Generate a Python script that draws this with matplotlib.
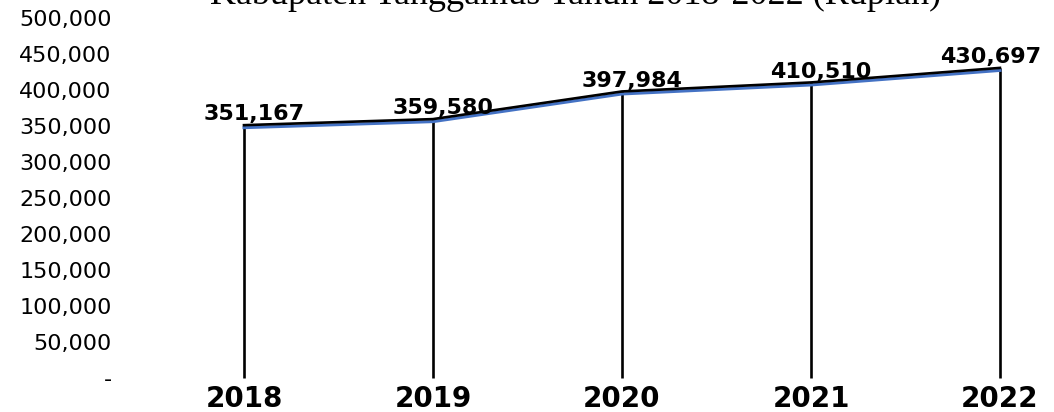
import matplotlib
matplotlib.use("Agg")
import matplotlib.pyplot as plt
from matplotlib import transforms

years = ["2018", "2019", "2020", "2021", "2022"]
values = [351167, 359580, 397984, 410510, 430697]
y_ticks = [0, 50000, 100000, 150000, 200000, 250000, 300000, 350000, 400000, 450000, 500000]
title = "Kabupaten Tanggamus Tahun 2018-2022 (Rupiah)"

W, H = 1054, 412
fig = plt.figure(figsize=(W / 100, H / 100), dpi=100)
ax = fig.add_axes([120 / W, (H - 378) / H, 1 - 120 / W, (378 - 18) / H])

x = list(range(len(years)))

# drop lines from each point down to zero
for xi, v in zip(x, values):
    ax.plot([xi, xi], [0, v], color="black", lw=1.9, solid_capstyle="butt", zorder=2)

# blue line slightly below the black series line
shadow = ax.transData + transforms.ScaledTranslation(0, -2.5 / 100, fig.dpi_scale_trans)
ax.plot(x, values, color="#4472C4", lw=2.2, transform=shadow, zorder=3)
ax.plot(x, values, color="black", lw=1.9, zorder=4)

# value labels; the last one is pulled inward so it stays inside the figure
for i, (xi, v) in enumerate(zip(x, values)):
    dx = -7 if i == len(values) - 1 else 7
    ax.annotate(f"{v:,}", (xi, v), xytext=(dx, 0.5), textcoords="offset points",
                ha="center", va="bottom", fontsize=16, fontweight="bold",
                family="DejaVu Sans", zorder=5)

ax.set_xlim(-0.656, 4.286)
ax.set_ylim(0, 500000)
ax.set_yticks(y_ticks)
ax.set_yticklabels(["-" if t == 0 else f"{t:,}" for t in y_ticks])
ax.set_xticks(x)
ax.set_xticklabels(years)
ax.tick_params(axis="y", length=0, pad=6, labelsize=16)
ax.tick_params(axis="x", length=0, pad=5, labelsize=20)
for lab in ax.get_xticklabels():
    lab.set_fontweight("bold")
for s in ax.spines.values():
    s.set_visible(False)
ax.patch.set_alpha(0)
for line in ax.lines:
    line.set_clip_on(False)

fig.text(576 / W, 1 - 4 / H, title, ha="center", va="baseline",
         family="Liberation Serif", fontsize=26)

fig.savefig("out.png", dpi=100)
